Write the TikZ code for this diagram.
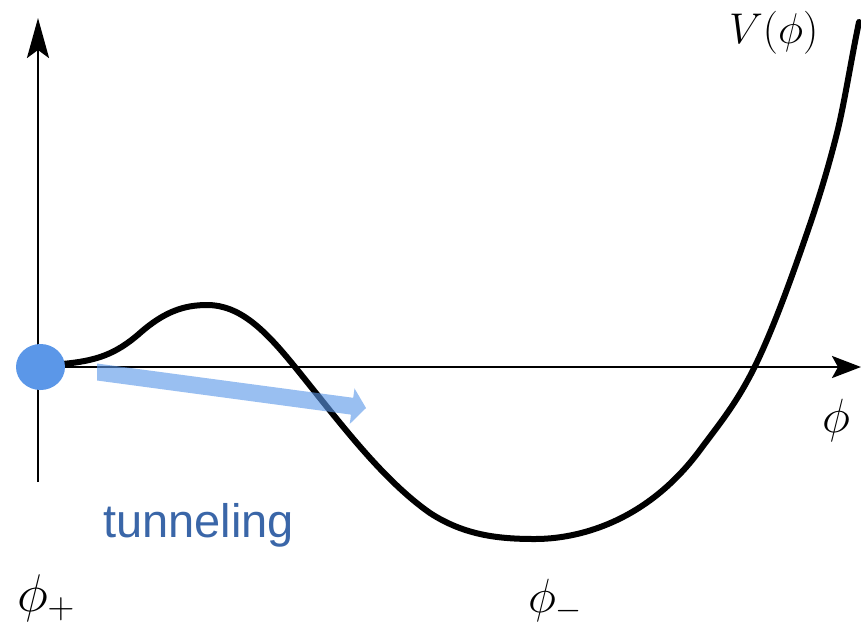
\RequirePackage{fix-cm}
\documentclass[tikz,border=0pt]{standalone}
\usepackage{fontspec}
\newfontfamily\labelsans{Liberation Sans}
\usetikzlibrary{arrows.meta,shapes.geometric}
\definecolor{dotblue}{RGB}{91,151,232}
\definecolor{textblue}{RGB}{58,102,168}
\tikzset{
  axisline/.style={line width=2.7pt,black},
  potential/.style={line width=6pt,black,line join=round,line cap=round},
  lbl/.style={inner sep=0pt,outer sep=0pt},
}
\begin{document}
\begin{tikzpicture}[x=1pt,y=-1pt]
\useasboundingbox (0,0) rectangle (861,625);
% axes
\coordinate (origin) at (38,367);
\coordinate (ytop) at (38,18);
\coordinate (ybot) at (38,482);
\coordinate (xend) at (861,367);
\draw[axisline,-{Stealth[length=40pt,width=22pt,inset=8pt]}] (ybot) -- (ytop);
\draw[axisline,-{Stealth[length=29pt,width=22pt,inset=6pt]}] (origin) -- (xend);
% potential curve
\draw[potential] (62,364)
  .. controls (95,361) and (115,355) .. (140,333)
  .. controls (165,311) and (185,305) .. (207,305)
  .. controls (240,305) and (265,330) .. (295,367)
  .. controls (335,416) and (380,478) .. (430,513)
  .. controls (465,535.75) and (500,539) .. (535,539)
  .. controls (575,539) and (645,524.3) .. (700,450)
  .. controls (719,424.3) and (738,401.9) .. (757,362)
  .. controls (773.7,327) and (790.3,281.4) .. (807,233)
  .. controls (817,204) and (827,172.8) .. (837,133)
  .. controls (844.3,103.8) and (851.7,56.5) .. (859,22);
% false vacuum ball
\node[lbl,ellipse,fill=dotblue,minimum width=49pt,minimum height=46pt] (ball) at (40.5,367) {};
% tunneling arrow
\fill[dotblue,opacity=0.62] (97,363.5) -- (353.2,397.8) -- (354.5,388.4) -- (366,408)
  -- (349.7,424.0) -- (351.0,414.6) -- (97,380.5) -- cycle;
% labels
\node[lbl,anchor=base west] (Vlab) at (729,43) {\fontsize{43}{50}\selectfont$V(\phi)$};
\node[lbl,anchor=base west] (philab) at (822,432) {\fontsize{48}{56}\selectfont$\phi$};
\node[lbl,anchor=base west] (phiplus) at (17,611) {\fontsize{53}{62}\selectfont$\phi_+$};
\node[lbl,anchor=base west] (phiminus) at (528,612) {\fontsize{48}{56}\selectfont$\phi_-$};
\node[lbl,anchor=base west,text=textblue] (tun) at (103,537) {\labelsans\fontsize{47}{55}\selectfont tunneling};
\end{tikzpicture}
\end{document}
